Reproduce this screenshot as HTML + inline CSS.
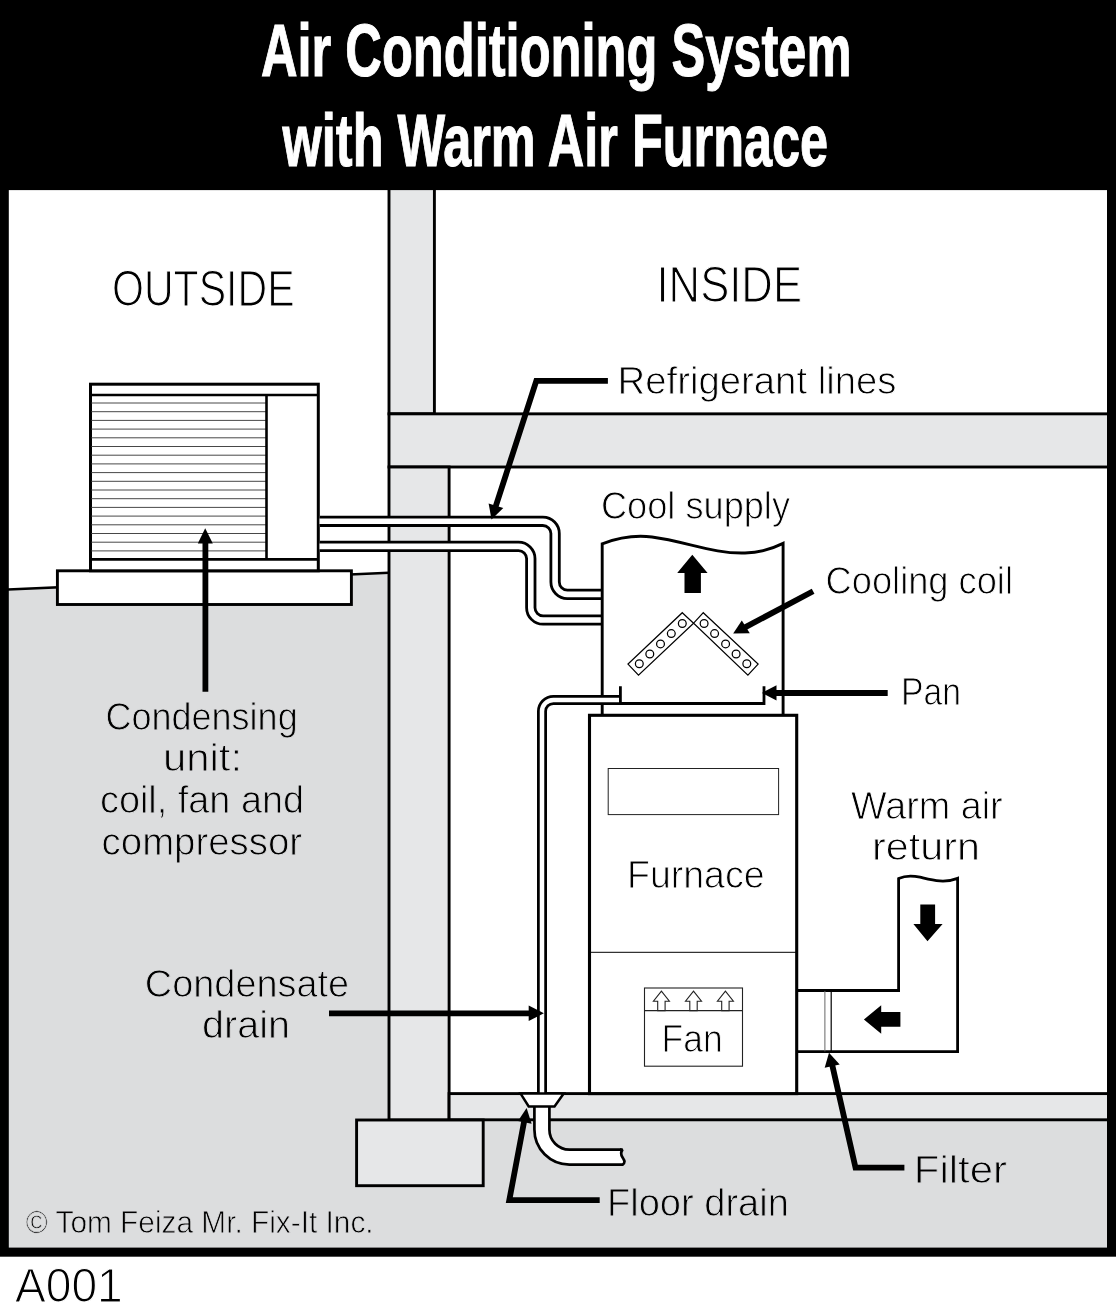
<!DOCTYPE html>
<html>
<head>
<meta charset="utf-8">
<title>Air Conditioning System with Warm Air Furnace</title>
<style>
html,body{margin:0;padding:0;background:#fff;}
body{width:1116px;height:1304px;overflow:hidden;font-family:"Liberation Sans",sans-serif;}
svg{display:block;will-change:transform;transform:translateZ(0);}
text{font-family:"Liberation Sans",sans-serif;}
.t{font-weight:bold;fill:#fff;font-size:75px;stroke:#fff;stroke-width:1.1px;}
.l{fill:#000;font-size:36px;stroke-width:0.9px;}
.k{stroke:#000;fill:none;}
</style>
</head>
<body>
<svg width="1116" height="1304" viewBox="0 0 1116 1304">
<!-- background -->
<rect x="0" y="0" width="1116" height="1304" fill="#fff"/>
<!-- ground -->
<polygon points="8,589.5 389,572.8 389,1119.6 1108,1119.6 1108,1248 8,1248" fill="#dcddde"/>
<line x1="8" y1="589.5" x2="389" y2="572.8" class="k" stroke-width="2.6"/>
<!-- wall and floors -->
<g fill="#e6e7e8" stroke="#000" stroke-width="2.9">
<rect x="389" y="188" width="45.4" height="225.85"/>
<rect x="389" y="413.85" width="730" height="53.15"/>
<rect x="389" y="467" width="60.1" height="653"/>
<rect x="449.1" y="1093.6" width="670" height="26.2"/>
<rect x="356.6" y="1120" width="126.6" height="65.7"/>
</g>
<!-- frame -->
<rect x="0" y="0" width="1116" height="190.1" fill="#000"/>
<rect x="0" y="0" width="8.8" height="1256" fill="#000"/>
<rect x="1107" y="0" width="9" height="1256" fill="#000"/>
<rect x="0" y="1247.6" width="1116" height="9.1" fill="#000"/>
<!-- pad -->
<rect x="57.4" y="570.8" width="294" height="33.7" fill="#fff" stroke="#000" stroke-width="2.9"/>
<!-- condensing unit -->
<rect x="90.5" y="384.2" width="227.8" height="186.6" fill="#fff" stroke="#000" stroke-width="3"/>
<g stroke="#333" stroke-width="0.9"><line x1="91" y1="403.0" x2="266.5" y2="403.0"/><line x1="91" y1="411.7" x2="266.5" y2="411.7"/><line x1="91" y1="420.4" x2="266.5" y2="420.4"/><line x1="91" y1="429.1" x2="266.5" y2="429.1"/><line x1="91" y1="437.8" x2="266.5" y2="437.8"/><line x1="91" y1="446.5" x2="266.5" y2="446.5"/><line x1="91" y1="455.2" x2="266.5" y2="455.2"/><line x1="91" y1="463.9" x2="266.5" y2="463.9"/><line x1="91" y1="472.6" x2="266.5" y2="472.6"/><line x1="91" y1="481.3" x2="266.5" y2="481.3"/><line x1="91" y1="490.0" x2="266.5" y2="490.0"/><line x1="91" y1="498.7" x2="266.5" y2="498.7"/><line x1="91" y1="507.4" x2="266.5" y2="507.4"/><line x1="91" y1="516.1" x2="266.5" y2="516.1"/><line x1="91" y1="524.8" x2="266.5" y2="524.8"/><line x1="91" y1="533.5" x2="266.5" y2="533.5"/><line x1="91" y1="542.2" x2="266.5" y2="542.2"/><line x1="91" y1="550.9" x2="266.5" y2="550.9"/></g>
<g class="k" stroke-width="2.6">
<line x1="90.5" y1="395" x2="318.8" y2="395"/>
<line x1="90.5" y1="559.4" x2="318.8" y2="559.4"/>
<line x1="266.5" y1="395" x2="266.5" y2="559"/>
</g>
<!-- refrigerant pipes -->
<g fill="none" stroke-linecap="butt">
<path d="M320,546.4 H518.5 A12.3,12.3 0 0 1 530.8,558.6 V607.7 A12.3,12.3 0 0 0 543.1,620 H601.5" stroke="#000" stroke-width="11.2"/>
<path d="M319.5,546.4 H518.5 A12.3,12.3 0 0 1 530.8,558.6 V607.7 A12.3,12.3 0 0 0 543.1,620 H602.5" stroke="#fff" stroke-width="5.6"/>
<path d="M320,521.3 H542.8 A12.3,12.3 0 0 1 555.1,533.9 V582.1 A12.3,12.3 0 0 0 567.4,594.4 H601.5" stroke="#000" stroke-width="11.2"/>
<path d="M319.5,521.3 H542.8 A12.3,12.3 0 0 1 555.1,533.9 V582.1 A12.3,12.3 0 0 0 567.4,594.4 H602.5" stroke="#fff" stroke-width="5.6"/>
</g>
<!-- plenum -->
<path d="M602.2,715 V543.8 C620,537 636,535 652,537 C686,541.5 714,554 745,553 C760,552.5 772,549 783.1,543.4 V715" fill="#fff" stroke="#000" stroke-width="2.9" stroke-linejoin="miter"/>
<!-- cooling coil -->
<g fill="#fff" stroke="#000" stroke-width="1.25">
<polygon points="682.3,612.7 693.6,623.2 638.5,675.1 628,664.1"/>
<polygon points="703.3,612.7 758.1,664.1 747.9,675.1 693.6,623.2"/>
<circle cx="682.3" cy="623.5" r="3.9"/><circle cx="671.3" cy="633.6" r="3.9"/><circle cx="660.5" cy="643.9" r="3.9"/><circle cx="649.8" cy="654.0" r="3.9"/><circle cx="639.3" cy="663.7" r="3.9"/><circle cx="704.1" cy="623.5" r="3.9"/><circle cx="714.6" cy="633.6" r="3.9"/><circle cx="725.6" cy="643.9" r="3.9"/><circle cx="736.1" cy="654.0" r="3.9"/><circle cx="746.8" cy="663.7" r="3.9"/>
</g>
<!-- condensate pipe -->
<g fill="none">
<path d="M620.4,699.9 H553.4 A11.4,11.4 0 0 0 542,711.3 V1094" stroke="#000" stroke-width="10"/>
<path d="M620.4,699.9 H553.4 A11.4,11.4 0 0 0 542,711.3 V1094" stroke="#fff" stroke-width="4.5"/>
</g>
<!-- pan -->
<path d="M620.4,686.3 V703.5 H764 V686.2" class="k" stroke-width="2.8"/>
<!-- up arrow -->
<polygon points="692.3,554.7 707.6,573 700.9,573 700.9,593.1 684.5,593.1 684.5,573 677.2,573" fill="#000"/>
<!-- return duct -->
<path d="M796.7,990.5 H898.6 V878.6 C904,876 912,875.4 920,877.2 C932,880 944,883.6 957.6,878.4 V1051.6 H796.7" fill="#fff" stroke="#000" stroke-width="2.8"/>
<!-- furnace -->
<rect x="589.5" y="715.3" width="207.2" height="378.3" fill="#fff" stroke="#000" stroke-width="3.1"/>
<line x1="589.5" y1="952.3" x2="797" y2="952.3" stroke="#000" stroke-width="1"/>
<rect x="608.2" y="768.5" width="170.4" height="46.1" fill="#fff" stroke="#222" stroke-width="1"/>
<!-- fan box -->
<g fill="#fff" stroke="#222" stroke-width="1.1">
<rect x="644.5" y="988" width="98" height="78.2"/>
<line x1="644.5" y1="1010.6" x2="742.5" y2="1010.6"/>
<path d="M661.4,991.1 L669.4,1001.2 H665.1 V1010.6 H657.6999999999999 V1001.2 H653.4 Z"/><path d="M693.5,991.1 L701.5,1001.2 H697.2 V1010.6 H689.8 V1001.2 H685.5 Z"/><path d="M725.4,991.1 L733.4,1001.2 H729.1 V1010.6 H721.6999999999999 V1001.2 H717.4 Z"/>
</g>
<!-- return duct arrows -->
<line x1="824.9" y1="990.9" x2="824.9" y2="1051.4" stroke="#666" stroke-width="1"/>
<line x1="831.2" y1="990.9" x2="831.2" y2="1051.4" stroke="#000" stroke-width="1.2"/>
<polygon points="920.3,904.5 935.1,904.5 935.1,924.1 942.6,924.1 927.5,941.3 913.4,924.1 920.3,924.1" fill="#000"/>
<polygon points="863.9,1019.5 881.2,1005.3 881.2,1012 900.4,1012 900.4,1026.8 881.2,1026.8 881.2,1033.7" fill="#000"/>
<!-- floor drain -->
<g fill="none">
<path d="M541.9,1105 V1129.5 A27.5,27.5 0 0 0 569.4,1157.1 H621.5" stroke="#000" stroke-width="17.7"/>
<path d="M541.9,1105 V1129.5 A27.5,27.5 0 0 0 569.4,1157.1 H621.5" stroke="#fff" stroke-width="12.3"/>
</g>
<path d="M620,1149.6 H622.6 C620.4,1152.2 620.6,1154.4 622.6,1157.4 C625,1161 625.2,1162.6 622.6,1164.6 H620" fill="#fff" stroke="#000" stroke-width="2.7" stroke-linejoin="miter" stroke-miterlimit="2.2"/>
<polygon points="520.6,1093.6 563.7,1093.6 554.5,1106.4 528.7,1106.4" fill="#fff" stroke="#000" stroke-width="2.5" stroke-linejoin="miter"/>
<!-- leaders / arrows -->
<g fill="none" stroke="#000" stroke-width="5.8" stroke-linejoin="miter" stroke-miterlimit="10">
<path d="M607.9,380.9 H536.3 L495.3,507.7"/>
<line x1="205.4" y1="691.8" x2="205.4" y2="541"/>
<line x1="813.1" y1="591.3" x2="745" y2="627.4"/>
<line x1="887.7" y1="693" x2="775" y2="693"/>
<line x1="329" y1="1013.3" x2="530" y2="1013.3"/>
<path d="M599.7,1200.2 H509.3 L524.4,1120"/>
<path d="M904.4,1167.7 H855.5 L832,1064"/>
</g>
<g fill="#000">
<polygon points="491.5,519.4 488.6,503.4 503.3,508"/>
<polygon points="205.2,528.2 212.8,543.4 197.8,543.4"/>
<polygon points="733.2,633.6 741.8,620.6 749.8,633.2"/>
<polygon points="761.9,692.9 776.5,685.3 776.5,700.4"/>
<polygon points="543.9,1013.3 528.7,1005.6 528.7,1021"/>
<polygon points="526.6,1108 518,1120.9 531.6,1123.7"/>
<polygon points="829,1052.8 824.7,1067.8 839.7,1064.6"/>
</g>
<!-- title -->
<text class="t" x="261" y="75.8" textLength="590.5" lengthAdjust="spacingAndGlyphs">Air Conditioning System</text>
<text class="t" x="282.6" y="165.7" textLength="545.5" lengthAdjust="spacingAndGlyphs">with Warm Air Furnace</text>
<!-- labels -->
<g>
<text id="l0" class="l" stroke="#fff" x="112.0" y="305.5" font-size="50" textLength="182.6" lengthAdjust="spacingAndGlyphs" style="stroke-width:1.2px;font-size:50px">OUTSIDE</text>
<text id="l1" class="l" stroke="#fff" x="656.5" y="301.5" font-size="49.5" textLength="145.5" lengthAdjust="spacingAndGlyphs" style="stroke-width:1.19px;font-size:49.5px">INSIDE</text>
<text id="l2" class="l" stroke="#fff" x="617.5" y="394.3" font-size="38" textLength="279.0" lengthAdjust="spacingAndGlyphs" style="stroke-width:0.91px;font-size:38px">Refrigerant lines</text>
<text id="l3" class="l" stroke="#fff" x="601.0" y="519.4" font-size="38" textLength="189.0" lengthAdjust="spacingAndGlyphs" style="stroke-width:0.91px;font-size:38px">Cool supply</text>
<text id="l4" class="l" stroke="#fff" x="825.6" y="594.2" font-size="38" textLength="187.4" lengthAdjust="spacingAndGlyphs" style="stroke-width:0.91px;font-size:38px">Cooling coil</text>
<text id="l5" class="l" stroke="#fff" x="900.9" y="705" font-size="38" textLength="60.0" lengthAdjust="spacingAndGlyphs" style="stroke-width:0.91px;font-size:38px">Pan</text>
<text id="l6" class="l" stroke="#fff" x="850.9" y="818.7" font-size="38" textLength="151.8" lengthAdjust="spacingAndGlyphs" style="stroke-width:0.91px;font-size:38px">Warm air</text>
<text id="l7" class="l" stroke="#fff" x="872.1" y="860.3" font-size="38" textLength="107.9" lengthAdjust="spacingAndGlyphs" style="stroke-width:0.91px;font-size:38px">return</text>
<text id="l8" class="l" stroke="#fff" x="627.0" y="888" font-size="38" textLength="137.6" lengthAdjust="spacingAndGlyphs" style="stroke-width:0.91px;font-size:38px">Furnace</text>
<text id="l9" class="l" stroke="#fff" x="661.6" y="1051.9" font-size="38" textLength="61.1" lengthAdjust="spacingAndGlyphs" style="stroke-width:0.91px;font-size:38px">Fan</text>
<text id="l10" class="l" stroke="#dcddde" x="913.8" y="1182.7" font-size="38" textLength="93.2" lengthAdjust="spacingAndGlyphs" style="stroke-width:0.91px;font-size:38px">Filter</text>
<text id="l11" class="l" stroke="#dcddde" x="607.0" y="1216.1" font-size="38" textLength="181.9" lengthAdjust="spacingAndGlyphs" style="stroke-width:0.91px;font-size:38px">Floor drain</text>
<text id="l12" class="l" stroke="#dcddde" x="144.8" y="997.2" font-size="38" textLength="204.4" lengthAdjust="spacingAndGlyphs" style="stroke-width:0.91px;font-size:38px">Condensate</text>
<text id="l13" class="l" stroke="#dcddde" x="202.0" y="1037.8" font-size="38" textLength="87.9" lengthAdjust="spacingAndGlyphs" style="stroke-width:0.91px;font-size:38px">drain</text>
<text id="l14" class="l" stroke="#dcddde" x="105.4" y="730.3" font-size="38" textLength="192.3" lengthAdjust="spacingAndGlyphs" style="stroke-width:0.91px;font-size:38px">Condensing</text>
<text id="l15" class="l" stroke="#dcddde" x="163.0" y="771.4" font-size="38" textLength="79.1" lengthAdjust="spacingAndGlyphs" style="stroke-width:0.91px;font-size:38px">unit:</text>
<text id="l16" class="l" stroke="#dcddde" x="100.0" y="813.2" font-size="38" textLength="204.0" lengthAdjust="spacingAndGlyphs" style="stroke-width:0.91px;font-size:38px">coil, fan and</text>
<text id="l17" class="l" stroke="#dcddde" x="101.6" y="855.0" font-size="38" textLength="200.5" lengthAdjust="spacingAndGlyphs" style="stroke-width:0.91px;font-size:38px">compressor</text>
<text id="l18" class="l" stroke="#dcddde" x="25.8" y="1233.3" font-size="31.5" textLength="347.8" lengthAdjust="spacingAndGlyphs" style="stroke-width:0.76px;font-size:31.5px">© Tom Feiza Mr. Fix-It Inc.</text>
<text id="l19" class="l" stroke="#fff" x="14.9" y="1302.3" font-size="48.5" textLength="107.9" lengthAdjust="spacingAndGlyphs" style="stroke-width:1.16px;font-size:48.5px">A001</text>
</g>

</svg>
</body>
</html>
